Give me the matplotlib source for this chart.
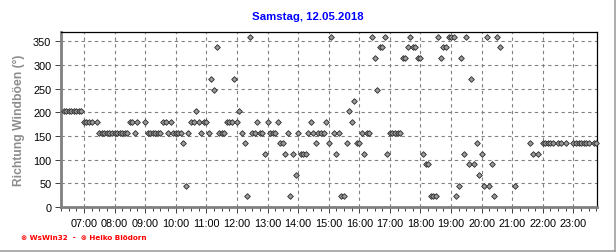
import matplotlib
matplotlib.use("Agg")
import matplotlib.pyplot as plt
from matplotlib.lines import Line2D
from matplotlib.ticker import FixedLocator, MultipleLocator

plt.rcParams["font.family"] = ["Liberation Sans", "DejaVu Sans"]

title = "Samstag, 12.05.2018"
ylabel = "Richtung Windböen (°)"
footer = "⊗ WsWin32  -  ⊗ Heiko Blödorn"

# 5-minute readings (time of day, wind gust direction in degrees)
times = [
    "06:20", "06:25", "06:30", "06:35", "06:40", "06:45", "06:50", "06:55",
    "07:00", "07:05", "07:10", "07:15", "07:25", "07:30", "07:35", "07:40", "07:45", "07:50", "07:55",
    "08:00", "08:05", "08:10", "08:15", "08:20", "08:25", "08:30", "08:35", "08:40", "08:45",
    "09:00", "09:05", "09:10", "09:15", "09:20", "09:25", "09:30", "09:35", "09:40", "09:45", "09:50", "09:55",
    "10:00", "10:05", "10:10", "10:15", "10:20", "10:25", "10:30", "10:35", "10:40", "10:45", "10:50", "10:55",
    "11:00", "11:05", "11:10", "11:15", "11:20", "11:25", "11:30", "11:35", "11:40", "11:45", "11:50", "11:55",
    "12:00", "12:05", "12:10", "12:15", "12:20", "12:25", "12:30", "12:35", "12:40", "12:45", "12:50", "12:55",
    "13:00", "13:05", "13:10", "13:15", "13:20", "13:25", "13:30", "13:35", "13:40", "13:45", "13:50", "13:55",
    "14:00", "14:05", "14:10", "14:15", "14:20", "14:25", "14:30", "14:35", "14:40", "14:45", "14:50", "14:55",
    "15:00", "15:05", "15:10", "15:15", "15:20", "15:25", "15:30", "15:35", "15:40", "15:45", "15:50", "15:55",
    "16:00", "16:05", "16:10", "16:15", "16:20", "16:25", "16:30", "16:35", "16:40", "16:45", "16:50", "16:55",
    "17:00", "17:05", "17:10", "17:15", "17:20", "17:25", "17:30", "17:35", "17:40", "17:45", "17:50", "17:55",
    "18:00", "18:05", "18:10", "18:15", "18:20", "18:25", "18:30", "18:35", "18:40", "18:45", "18:50", "18:55",
    "19:00", "19:05", "19:10", "19:15", "19:20", "19:25", "19:30", "19:35", "19:40", "19:45", "19:50", "19:55",
    "20:00", "20:05", "20:10", "20:15", "20:20", "20:25", "20:30", "20:35",
    "21:05", "21:35", "21:40", "21:50",
    "22:00", "22:05", "22:10", "22:15", "22:20", "22:30", "22:35", "22:45",
    "23:00", "23:05", "23:10", "23:15", "23:20", "23:25", "23:30", "23:40", "23:45",
]
directions = [
    202.5, 202.5, 202.5, 202.5, 202.5, 202.5, 202.5, 202.5,
    180, 180, 180, 180, 180, 157.5, 157.5, 157.5, 157.5, 157.5, 157.5,
    157.5, 157.5, 157.5, 157.5, 157.5, 157.5, 180, 180, 157.5, 180,
    180, 157.5, 157.5, 157.5, 157.5, 157.5, 157.5, 180, 180, 157.5, 180, 157.5,
    157.5, 157.5, 157.5, 135, 45, 157.5, 180, 180, 202.5, 180, 157.5, 180,
    180, 157.5, 270, 247.5, 337.5, 157.5, 157.5, 157.5, 180, 180, 180, 270,
    180, 202.5, 157.5, 135, 22.5, 360, 157.5, 157.5, 180, 157.5, 157.5, 112.5,
    180, 157.5, 157.5, 157.5, 180, 135, 135, 112.5, 157.5, 22.5, 112.5, 67.5,
    157.5, 112.5, 112.5, 112.5, 157.5, 180, 157.5, 135, 157.5, 157.5, 157.5, 180,
    135, 360, 157.5, 112.5, 157.5, 22.5, 22.5, 135, 202.5, 180, 225, 135,
    135, 157.5, 112.5, 157.5, 157.5, 360, 315, 247.5, 337.5, 337.5, 360, 112.5,
    157.5, 157.5, 157.5, 157.5, 157.5, 315, 315, 337.5, 360, 337.5, 337.5, 315,
    315, 112.5, 90, 90, 22.5, 22.5, 22.5, 360, 315, 337.5, 337.5, 360,
    360, 360, 22.5, 45, 315, 112.5, 360, 90, 270, 90, 135, 67.5,
    112.5, 45, 360, 45, 90, 22.5, 360, 337.5,
    45, 135, 112.5, 112.5,
    135, 135, 135, 135, 135, 135, 135, 135,
    135, 135, 135, 135, 135, 135, 135, 135, 135,
]
hour_ticks = list(range(7, 24))


def to_hours(hhmm):
    h, m = hhmm.split(":")
    return int(h) + int(m) / 60


x = [to_hours(t) for t in times]

fig = plt.figure(figsize=(6.16, 2.53), dpi=100)
ax = fig.add_axes([61 / 616, 45 / 253, 536 / 616, 175 / 253])

ax.plot(x, directions, linestyle="none", marker="D", markersize=2.9,
        markerfacecolor="#9a9a9a", markeredgecolor="#2a2a2a",
        markeredgewidth=0.6, zorder=3, clip_on=False)

ax.set_xlim(6.25, 23.77)
ax.set_ylim(0, 370)

ax.xaxis.set_major_locator(FixedLocator(hour_ticks))
ax.set_xticklabels([f"{h:02d}:00" for h in hour_ticks])
ax.xaxis.set_minor_locator(MultipleLocator(0.25))
ax.yaxis.set_major_locator(MultipleLocator(50))

ax.tick_params(axis="both", which="major", direction="out", length=4,
               width=0.7, color="#404040", labelsize=7.8, labelcolor="black")
ax.tick_params(axis="x", which="major", pad=4)
ax.tick_params(axis="x", which="minor", direction="out", length=3,
               width=0.7, color="#404040")
ax.tick_params(axis="y", which="major", pad=3)

ax.grid(True, which="major", color="#808080", linestyle=(0, (3, 3)),
        linewidth=0.8, zorder=0)
ax.set_axisbelow(True)

for side in ("left", "bottom"):
    ax.spines[side].set_color("#808080")
    ax.spines[side].set_linewidth(2.0)
for side in ("top", "right"):
    ax.spines[side].set_color("black")
    ax.spines[side].set_linewidth(0.9)

ax.set_ylabel(ylabel, fontsize=8.7, fontweight="bold", color="#8c8c8c", labelpad=6)
fig.text(308 / 616, 1 - 17 / 253, title, ha="center", va="center",
         fontsize=8.2, fontweight="bold", color="#0000ff")
fig.text(21 / 616, 1 - 238 / 253, footer, ha="left", va="center",
         fontsize=5.2, fontweight="bold", color="#ff0000",
         family=["DejaVu Sans"])

# light frame on the right and bottom edge of the picture
fig.add_artist(Line2D([0, 615 / 616], [1.5 / 253, 1.5 / 253],
                      transform=fig.transFigure, color="#a0a0a0", linewidth=1.2))
fig.add_artist(Line2D([615 / 616, 615 / 616], [1.5 / 253, 1],
                      transform=fig.transFigure, color="#a0a0a0", linewidth=1.2))

fig.savefig("out.png", dpi=100)
plt.close(fig)
